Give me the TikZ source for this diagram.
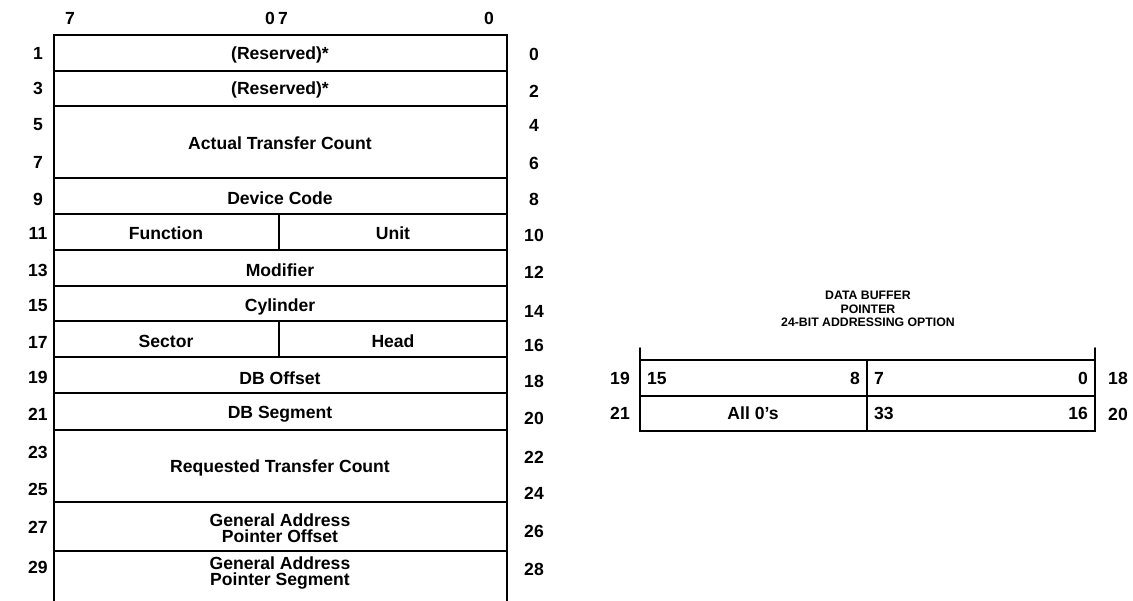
\documentclass[tikz,border=0pt]{standalone}
\usepackage{fontspec}
\setmainfont{Liberation Sans}
\usepackage{tikz}
\usetikzlibrary{positioning}

\begin{document}
\begin{tikzpicture}[
    x=0.02cm, y=-0.02cm,
    field/.style={align=center, inner sep=1pt, text height=7pt, text depth=0pt, font=\bfseries\fontsize{10}{10}\selectfont},
    twoline/.style={align=center, inner sep=1pt, font=\bfseries\fontsize{10}{9.3}\selectfont},
    num/.style={inner sep=1pt, text height=7pt, text depth=0pt, font=\bfseries\fontsize{10}{10}\selectfont},
    title/.style={align=center, inner sep=1pt, font=\bfseries\fontsize{7}{7.7}\selectfont},
    frame/.style={line width=0.9pt, line cap=round}
]
    \useasboundingbox (0,0) rectangle (1133,601);

    % Left block: parameter block layout
    \draw [frame] (54,601) -- (54,35) -- (507,35) -- (507,601);
    \foreach \y in {71,106,178,214,250,286,321,357,393,430,502,551}
        \draw [frame] (54,\y) -- (507,\y);
    \draw [frame] (279,214) -- (279,250);
    \draw [frame] (279,321) -- (279,357);

    % Bit numbers above the block
    \node (bitA) [num] at (70,18) {7};
    \node (bitB) [num] at (270,18) {0};
    \node (bitC) [num] at (283,18) {7};
    \node (bitD) [num] at (489,18) {0};

    % Fields
    \node (resA) [field] at (280,53) {(Reserved)*};
    \node (resB) [field] at (280,88) {(Reserved)*};
    \node (actual) [field] at (280,143) {Actual Transfer Count};
    \node (device) [field] at (280,198) {Device Code};
    \node (function) [field] at (166,233) {Function};
    \node (unit) [field] at (393,233) {Unit};
    \node (modifier) [field] at (280,270) {Modifier};
    \node (cylinder) [field] at (280,305) {Cylinder};
    \node (sector) [field] at (166,341) {Sector};
    \node (head) [field] at (393,341) {Head};
    \node (dboffset) [field] at (280,378) {DB Offset};
    \node (dbsegment) [field] at (280,412) {DB Segment};
    \node (requested) [field] at (280,466) {Requested Transfer Count};
    \node (gapoffset) [twoline] at (280,528) {General Address\\Pointer Offset};
    \node (gapsegment) [twoline] at (280,573) {General Address\\Pointer Segment};

    % Byte offsets, odd on the left, even on the right
    \foreach \n/\y in {1/53,3/88,5/124,7/162,9/199,11/233,13/270,15/305,17/342,19/377,21/414,23/452,25/489,27/527,29/567}
        \node (odd\n) [num] at (38,\y) {\n};
    \foreach \n/\y in {0/54,2/91,4/125,6/163,8/199,10/235,12/272,14/311,16/345,18/381,20/418,22/457,24/493,26/531,28/569}
        \node (even\n) [num] at (534,\y) {\n};

    % Right block: data buffer pointer
    \node (dbtitle) [title] at (868,309) {DATA BUFFER\\POINTER\\24-BIT ADDRESSING OPTION};
    \draw [frame] (640,348) -- (640,431) -- (1095,431) -- (1095,348);
    \draw [frame] (640,360) -- (1095,360);
    \draw [frame] (640,396) -- (1095,396);
    \draw [frame] (867,360) -- (867,431);

    \node (hiA) [num, anchor=west] at (645,378) {15};
    \node (hiB) [num, anchor=east] at (862,378) {8};
    \node (loA) [num, anchor=west] at (872,378) {7};
    \node (loB) [num, anchor=east] at (1090,378) {0};
    \node (zeros) [field] at (753,413) {All 0's};
    \node (segA) [num, anchor=west] at (872,413) {33};
    \node (segB) [num, anchor=east] at (1090,413) {16};

    \node (ptrL1) [num] at (620,378) {19};
    \node (ptrR1) [num] at (1118,378) {18};
    \node (ptrL2) [num] at (620,413) {21};
    \node (ptrR2) [num] at (1118,414) {20};

\end{tikzpicture}
\end{document}
